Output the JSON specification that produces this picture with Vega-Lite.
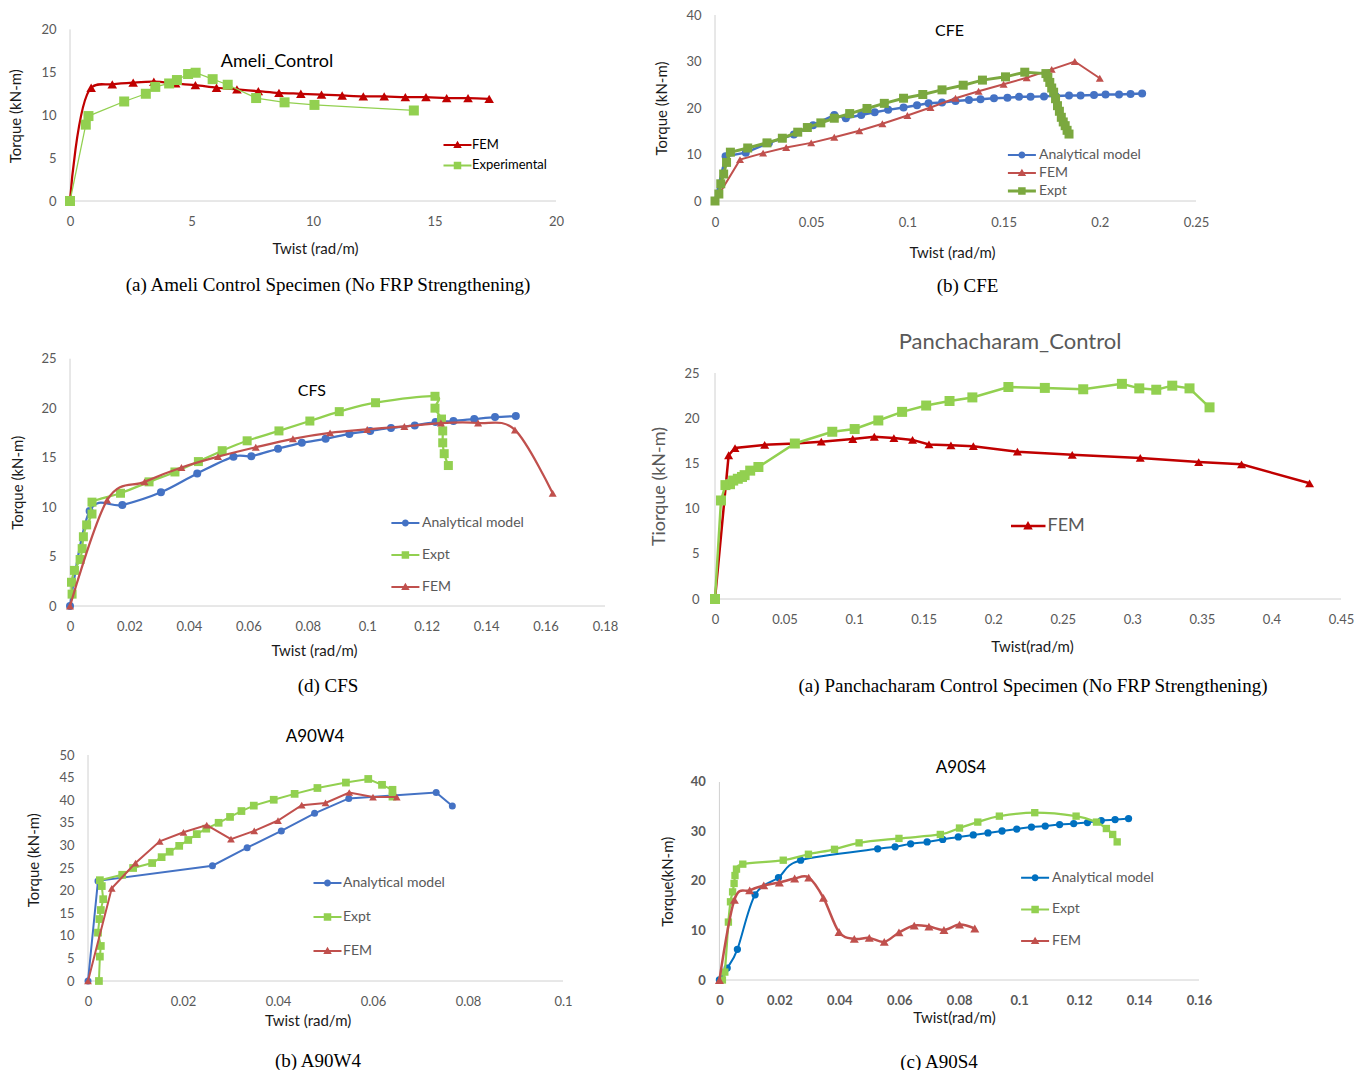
{
"$schema": "https://vega.github.io/schema/vega-lite/v6.json",
"background": "white",
"padding": {"left": 8, "top": 9, "right": 2, "bottom": 2},
"config": {
  "view": {"stroke": null},
  "font": "Lato",
  "axis": {"domain": false, "ticks": false, "grid": false, "labelColor": "#595959", "labelFontSize": 13, "labelFont": "Lato", "titleFont": "Lato", "titleFontSize": 15, "titleFontWeight": "normal", "titleColor": "#1a1a1a", "labelFlush": false, "labelOverlap": false},
  "axisX": {"labelPadding": 14},
  "axisY": {"labelPadding": 14},
  "legend": {"orient": "none", "padding": 0, "labelFont": "Lato", "labelFontSize": 14, "labelColor": "#595959", "symbolSize": 100, "symbolOpacity": 1, "symbolStrokeWidth": 0, "labelOffset": 3, "labelLimit": 400},
  "title": {"font": "Liberation Serif", "fontSize": 19, "fontWeight": "normal", "color": "#000000", "orient": "bottom", "anchor": "middle", "frame": "group"}
},
"datasets": {
  "p1": [
    {"s":"FEM","x":0,"y":0},{"s":"FEM","x":0.87,"y":13.2},{"s":"FEM","x":1.74,"y":13.6},{"s":"FEM","x":2.6,"y":13.8},{"s":"FEM","x":3.45,"y":13.9},{"s":"FEM","x":4.35,"y":13.7},{"s":"FEM","x":5.16,"y":13.5},{"s":"FEM","x":6.03,"y":13.2},{"s":"FEM","x":6.87,"y":13.0},{"s":"FEM","x":7.75,"y":12.8},{"s":"FEM","x":8.6,"y":12.6},{"s":"FEM","x":9.5,"y":12.5},{"s":"FEM","x":10.35,"y":12.4},{"s":"FEM","x":11.2,"y":12.3},{"s":"FEM","x":12.07,"y":12.2},{"s":"FEM","x":12.93,"y":12.2},{"s":"FEM","x":13.8,"y":12.1},{"s":"FEM","x":14.65,"y":12.1},{"s":"FEM","x":15.5,"y":12.0},{"s":"FEM","x":16.38,"y":12.0},{"s":"FEM","x":17.25,"y":11.9},
    {"s":"Experimental","x":0,"y":0},{"s":"Experimental","x":0.65,"y":8.9},{"s":"Experimental","x":0.76,"y":9.9},{"s":"Experimental","x":2.23,"y":11.6},{"s":"Experimental","x":3.12,"y":12.5},{"s":"Experimental","x":3.51,"y":13.3},{"s":"Experimental","x":4.08,"y":13.7},{"s":"Experimental","x":4.4,"y":14.1},{"s":"Experimental","x":4.86,"y":14.8},{"s":"Experimental","x":5.17,"y":14.95},{"s":"Experimental","x":5.87,"y":14.2},{"s":"Experimental","x":6.49,"y":13.55},{"s":"Experimental","x":7.66,"y":12.0},{"s":"Experimental","x":8.83,"y":11.5},{"s":"Experimental","x":10.06,"y":11.2},{"s":"Experimental","x":14.15,"y":10.55}
  ],
  "p2": [
    {"s":"Analytical model","x":0,"y":0},{"s":"Analytical model","x":0.0055,"y":9.6},{"s":"Analytical model","x":0.016,"y":10.4},{"s":"Analytical model","x":0.028,"y":12.5},{"s":"Analytical model","x":0.041,"y":14.3},{"s":"Analytical model","x":0.051,"y":16.3},{"s":"Analytical model","x":0.062,"y":18.5},{"s":"Analytical model","x":0.068,"y":17.8},{"s":"Analytical model","x":0.076,"y":18.5},{"s":"Analytical model","x":0.083,"y":19.1},{"s":"Analytical model","x":0.09,"y":19.6},{"s":"Analytical model","x":0.098,"y":20.1},{"s":"Analytical model","x":0.105,"y":20.6},{"s":"Analytical model","x":0.111,"y":21.0},{"s":"Analytical model","x":0.118,"y":21.2},{"s":"Analytical model","x":0.125,"y":21.5},{"s":"Analytical model","x":0.132,"y":21.7},{"s":"Analytical model","x":0.138,"y":21.9},{"s":"Analytical model","x":0.145,"y":22.1},{"s":"Analytical model","x":0.152,"y":22.2},{"s":"Analytical model","x":0.158,"y":22.4},{"s":"Analytical model","x":0.164,"y":22.4},{"s":"Analytical model","x":0.171,"y":22.5},{"s":"Analytical model","x":0.177,"y":22.6},{"s":"Analytical model","x":0.184,"y":22.7},{"s":"Analytical model","x":0.19,"y":22.7},{"s":"Analytical model","x":0.197,"y":22.8},{"s":"Analytical model","x":0.203,"y":22.9},{"s":"Analytical model","x":0.21,"y":22.9},{"s":"Analytical model","x":0.216,"y":23.0},{"s":"Analytical model","x":0.222,"y":23.1},
    {"s":"FEM","x":0,"y":0},{"s":"FEM","x":0.013,"y":8.9},{"s":"FEM","x":0.025,"y":10.3},{"s":"FEM","x":0.037,"y":11.5},{"s":"FEM","x":0.05,"y":12.5},{"s":"FEM","x":0.062,"y":13.7},{"s":"FEM","x":0.075,"y":15.1},{"s":"FEM","x":0.087,"y":16.6},{"s":"FEM","x":0.1,"y":18.4},{"s":"FEM","x":0.112,"y":20.1},{"s":"FEM","x":0.125,"y":22.1},{"s":"FEM","x":0.137,"y":23.6},{"s":"FEM","x":0.15,"y":25.1},{"s":"FEM","x":0.162,"y":26.5},{"s":"FEM","x":0.175,"y":28.3},{"s":"FEM","x":0.187,"y":30.0},{"s":"FEM","x":0.2,"y":26.4},
    {"s":"Expt","x":0,"y":0},{"s":"Expt","x":0.002,"y":1.5},{"s":"Expt","x":0.003,"y":3.7},{"s":"Expt","x":0.0045,"y":5.8},{"s":"Expt","x":0.006,"y":8.3},{"s":"Expt","x":0.008,"y":10.5},{"s":"Expt","x":0.017,"y":11.4},{"s":"Expt","x":0.027,"y":12.5},{"s":"Expt","x":0.035,"y":13.5},{"s":"Expt","x":0.043,"y":14.8},{"s":"Expt","x":0.048,"y":15.8},{"s":"Expt","x":0.055,"y":16.8},{"s":"Expt","x":0.062,"y":17.8},{"s":"Expt","x":0.07,"y":18.8},{"s":"Expt","x":0.079,"y":19.9},{"s":"Expt","x":0.088,"y":21.0},{"s":"Expt","x":0.098,"y":22.1},{"s":"Expt","x":0.108,"y":22.9},{"s":"Expt","x":0.118,"y":23.9},{"s":"Expt","x":0.129,"y":24.9},{"s":"Expt","x":0.139,"y":26.0},{"s":"Expt","x":0.151,"y":26.7},{"s":"Expt","x":0.161,"y":27.7},{"s":"Expt","x":0.172,"y":27.4},{"s":"Expt","x":0.173,"y":26.6},{"s":"Expt","x":0.174,"y":25.5},{"s":"Expt","x":0.175,"y":24.3},{"s":"Expt","x":0.176,"y":23.4},{"s":"Expt","x":0.177,"y":22.0},{"s":"Expt","x":0.178,"y":20.5},{"s":"Expt","x":0.179,"y":19.3},{"s":"Expt","x":0.18,"y":18.0},{"s":"Expt","x":0.181,"y":17.0},{"s":"Expt","x":0.182,"y":16.2},{"s":"Expt","x":0.183,"y":15.2},{"s":"Expt","x":0.184,"y":14.4}
  ],
  "p3": [
    {"s":"Analytical model","x":0,"y":0},{"s":"Analytical model","x":0.0066,"y":9.6},{"s":"Analytical model","x":0.0176,"y":10.2},{"s":"Analytical model","x":0.0306,"y":11.5},{"s":"Analytical model","x":0.0428,"y":13.4},{"s":"Analytical model","x":0.055,"y":15.1},{"s":"Analytical model","x":0.061,"y":15.15},{"s":"Analytical model","x":0.07,"y":15.9},{"s":"Analytical model","x":0.078,"y":16.5},{"s":"Analytical model","x":0.086,"y":16.9},{"s":"Analytical model","x":0.094,"y":17.4},{"s":"Analytical model","x":0.101,"y":17.7},{"s":"Analytical model","x":0.108,"y":18.0},{"s":"Analytical model","x":0.116,"y":18.25},{"s":"Analytical model","x":0.123,"y":18.6},{"s":"Analytical model","x":0.129,"y":18.7},{"s":"Analytical model","x":0.136,"y":18.9},{"s":"Analytical model","x":0.143,"y":19.1},{"s":"Analytical model","x":0.15,"y":19.2},
    {"s":"Expt","x":0.0007,"y":1.2},{"s":"Expt","x":0.0005,"y":2.4},{"s":"Expt","x":0.0015,"y":3.6},{"s":"Expt","x":0.0034,"y":4.7},{"s":"Expt","x":0.0041,"y":5.8},{"s":"Expt","x":0.0045,"y":7.0},{"s":"Expt","x":0.0056,"y":8.2},{"s":"Expt","x":0.0074,"y":9.3},{"s":"Expt","x":0.0074,"y":10.5},{"s":"Expt","x":0.017,"y":11.4},{"s":"Expt","x":0.0266,"y":12.55},{"s":"Expt","x":0.0353,"y":13.55},{"s":"Expt","x":0.0432,"y":14.6},{"s":"Expt","x":0.0512,"y":15.7},{"s":"Expt","x":0.0596,"y":16.7},{"s":"Expt","x":0.0703,"y":17.7},{"s":"Expt","x":0.0807,"y":18.7},{"s":"Expt","x":0.0906,"y":19.65},{"s":"Expt","x":0.1028,"y":20.55},{"s":"Expt","x":0.1228,"y":21.2},{"s":"Expt","x":0.1228,"y":20.0},{"s":"Expt","x":0.125,"y":18.9},{"s":"Expt","x":0.1254,"y":17.7},{"s":"Expt","x":0.1254,"y":16.5},{"s":"Expt","x":0.1259,"y":15.4},{"s":"Expt","x":0.1273,"y":14.2},
    {"s":"FEM","x":0,"y":0},{"s":"FEM","x":0.0125,"y":10.7},{"s":"FEM","x":0.0251,"y":12.55},{"s":"FEM","x":0.0375,"y":14.0},{"s":"FEM","x":0.0498,"y":15.1},{"s":"FEM","x":0.0625,"y":16.05},{"s":"FEM","x":0.075,"y":16.9},{"s":"FEM","x":0.0875,"y":17.5},{"s":"FEM","x":0.1,"y":17.85},{"s":"FEM","x":0.1125,"y":18.15},{"s":"FEM","x":0.1248,"y":18.5},{"s":"FEM","x":0.1373,"y":18.5},{"s":"FEM","x":0.1497,"y":17.8},{"s":"FEM","x":0.1624,"y":11.4}
  ],
  "p4": [
    {"s":"FEM","x":0,"y":0},{"s":"FEM","x":0.0098,"y":15.9},{"s":"FEM","x":0.0144,"y":16.7},{"s":"FEM","x":0.0357,"y":17.05},{"s":"FEM","x":0.0574,"y":17.2},{"s":"FEM","x":0.0764,"y":17.4},{"s":"FEM","x":0.099,"y":17.7},{"s":"FEM","x":0.1145,"y":17.95},{"s":"FEM","x":0.1286,"y":17.8},{"s":"FEM","x":0.142,"y":17.6},{"s":"FEM","x":0.1538,"y":17.1},{"s":"FEM","x":0.1696,"y":17.0},{"s":"FEM","x":0.1857,"y":16.9},{"s":"FEM","x":0.2174,"y":16.3},{"s":"FEM","x":0.2568,"y":15.95},{"s":"FEM","x":0.3057,"y":15.6},{"s":"FEM","x":0.3477,"y":15.15},{"s":"FEM","x":0.3785,"y":14.9},{"s":"FEM","x":0.4274,"y":12.8},
    {"s":"Experimental","x":0,"y":0},{"s":"Experimental","x":0.0043,"y":10.9},{"s":"Experimental","x":0.0075,"y":12.6},{"s":"Experimental","x":0.0108,"y":12.7},{"s":"Experimental","x":0.0131,"y":13.1},{"s":"Experimental","x":0.0164,"y":13.3},{"s":"Experimental","x":0.0194,"y":13.5},{"s":"Experimental","x":0.0213,"y":13.7},{"s":"Experimental","x":0.0253,"y":14.2},{"s":"Experimental","x":0.0312,"y":14.6},{"s":"Experimental","x":0.0574,"y":17.2},{"s":"Experimental","x":0.0843,"y":18.5},{"s":"Experimental","x":0.1004,"y":18.8},{"s":"Experimental","x":0.1174,"y":19.75},{"s":"Experimental","x":0.1345,"y":20.7},{"s":"Experimental","x":0.1518,"y":21.4},{"s":"Experimental","x":0.1686,"y":21.9},{"s":"Experimental","x":0.185,"y":22.3},{"s":"Experimental","x":0.2109,"y":23.45},{"s":"Experimental","x":0.2371,"y":23.35},{"s":"Experimental","x":0.2647,"y":23.2},{"s":"Experimental","x":0.2925,"y":23.8},{"s":"Experimental","x":0.305,"y":23.3},{"s":"Experimental","x":0.3172,"y":23.15},{"s":"Experimental","x":0.3287,"y":23.6},{"s":"Experimental","x":0.3411,"y":23.3},{"s":"Experimental","x":0.3555,"y":21.2}
  ],
  "p5": [
    {"s":"Analytical model","x":0,"y":0},{"s":"Analytical model","x":0.0021,"y":22.15},{"s":"Analytical model","x":0.0262,"y":25.5},{"s":"Analytical model","x":0.0335,"y":29.5},{"s":"Analytical model","x":0.0407,"y":33.2},{"s":"Analytical model","x":0.0477,"y":37.1},{"s":"Analytical model","x":0.0549,"y":40.4},{"s":"Analytical model","x":0.0733,"y":41.7},{"s":"Analytical model","x":0.0767,"y":38.7},
    {"s":"Expt","x":0.0023,"y":0},{"s":"Expt","x":0.0025,"y":5.4},{"s":"Expt","x":0.0027,"y":7.75},{"s":"Expt","x":0.0021,"y":10.7},{"s":"Expt","x":0.0024,"y":13.7},{"s":"Expt","x":0.0027,"y":15.7},{"s":"Expt","x":0.0032,"y":18.1},{"s":"Expt","x":0.0029,"y":21.0},{"s":"Expt","x":0.0025,"y":22.3},{"s":"Expt","x":0.0072,"y":23.5},{"s":"Expt","x":0.0095,"y":25.0},{"s":"Expt","x":0.0135,"y":26.1},{"s":"Expt","x":0.0155,"y":27.4},{"s":"Expt","x":0.0172,"y":28.6},{"s":"Expt","x":0.0192,"y":29.9},{"s":"Expt","x":0.0211,"y":31.2},{"s":"Expt","x":0.0229,"y":32.5},{"s":"Expt","x":0.0249,"y":33.7},{"s":"Expt","x":0.0275,"y":35.0},{"s":"Expt","x":0.0299,"y":36.3},{"s":"Expt","x":0.0323,"y":37.6},{"s":"Expt","x":0.0349,"y":38.8},{"s":"Expt","x":0.0391,"y":40.1},{"s":"Expt","x":0.0435,"y":41.4},{"s":"Expt","x":0.0483,"y":42.7},{"s":"Expt","x":0.0543,"y":43.9},{"s":"Expt","x":0.059,"y":44.7},{"s":"Expt","x":0.0619,"y":43.4},{"s":"Expt","x":0.0641,"y":42.3},{"s":"Expt","x":0.0641,"y":40.8},
    {"s":"FEM","x":0,"y":0},{"s":"FEM","x":0.005,"y":20.5},{"s":"FEM","x":0.01,"y":26.1},{"s":"FEM","x":0.0151,"y":30.9},{"s":"FEM","x":0.0201,"y":32.9},{"s":"FEM","x":0.025,"y":34.5},{"s":"FEM","x":0.0301,"y":31.4},{"s":"FEM","x":0.035,"y":33.2},{"s":"FEM","x":0.04,"y":35.5},{"s":"FEM","x":0.045,"y":38.9},{"s":"FEM","x":0.05,"y":39.4},{"s":"FEM","x":0.055,"y":41.7},{"s":"FEM","x":0.06,"y":40.7},{"s":"FEM","x":0.065,"y":40.7}
  ],
  "p6": [
    {"s":"Analytical model","x":0,"y":0},{"s":"Analytical model","x":0.0026,"y":2.4},{"s":"Analytical model","x":0.006,"y":6.2},{"s":"Analytical model","x":0.0119,"y":17.2},{"s":"Analytical model","x":0.0197,"y":20.7},{"s":"Analytical model","x":0.0271,"y":24.2},{"s":"Analytical model","x":0.0528,"y":26.5},{"s":"Analytical model","x":0.0586,"y":26.9},{"s":"Analytical model","x":0.0638,"y":27.5},{"s":"Analytical model","x":0.0693,"y":27.9},{"s":"Analytical model","x":0.0745,"y":28.4},{"s":"Analytical model","x":0.0797,"y":28.9},{"s":"Analytical model","x":0.0847,"y":29.3},{"s":"Analytical model","x":0.0896,"y":29.7},{"s":"Analytical model","x":0.0943,"y":30.1},{"s":"Analytical model","x":0.0992,"y":30.5},{"s":"Analytical model","x":0.1041,"y":30.9},{"s":"Analytical model","x":0.1087,"y":31.1},{"s":"Analytical model","x":0.1135,"y":31.4},{"s":"Analytical model","x":0.1182,"y":31.6},{"s":"Analytical model","x":0.1228,"y":31.8},{"s":"Analytical model","x":0.1274,"y":32.2},{"s":"Analytical model","x":0.132,"y":32.4},{"s":"Analytical model","x":0.1365,"y":32.6},
    {"s":"Expt","x":0.001,"y":0},{"s":"Expt","x":0.0018,"y":1.6},{"s":"Expt","x":0.003,"y":11.7},{"s":"Expt","x":0.0037,"y":15.8},{"s":"Expt","x":0.0044,"y":17.8},{"s":"Expt","x":0.0049,"y":19.5},{"s":"Expt","x":0.0052,"y":21.1},{"s":"Expt","x":0.0057,"y":22.4},{"s":"Expt","x":0.0078,"y":23.4},{"s":"Expt","x":0.0213,"y":24.2},{"s":"Expt","x":0.0297,"y":25.4},{"s":"Expt","x":0.0384,"y":26.4},{"s":"Expt","x":0.0466,"y":27.7},{"s":"Expt","x":0.0599,"y":28.6},{"s":"Expt","x":0.0737,"y":29.4},{"s":"Expt","x":0.0801,"y":30.7},{"s":"Expt","x":0.0862,"y":31.9},{"s":"Expt","x":0.0934,"y":33.1},{"s":"Expt","x":0.1052,"y":33.8},{"s":"Expt","x":0.119,"y":33.1},{"s":"Expt","x":0.1258,"y":31.9},{"s":"Expt","x":0.1291,"y":30.6},{"s":"Expt","x":0.1312,"y":29.4},{"s":"Expt","x":0.1327,"y":27.9},
    {"s":"FEM","x":0,"y":0},{"s":"FEM","x":0.005,"y":16.2},{"s":"FEM","x":0.0101,"y":18.1},{"s":"FEM","x":0.0148,"y":19.1},{"s":"FEM","x":0.02,"y":19.7},{"s":"FEM","x":0.0251,"y":20.5},{"s":"FEM","x":0.0298,"y":20.7},{"s":"FEM","x":0.0347,"y":16.6},{"s":"FEM","x":0.0399,"y":9.7},{"s":"FEM","x":0.045,"y":8.3},{"s":"FEM","x":0.05,"y":8.5},{"s":"FEM","x":0.055,"y":7.7},{"s":"FEM","x":0.0599,"y":9.6},{"s":"FEM","x":0.065,"y":11.0},{"s":"FEM","x":0.0699,"y":10.8},{"s":"FEM","x":0.0749,"y":10.1},{"s":"FEM","x":0.0801,"y":11.2},{"s":"FEM","x":0.0852,"y":10.4}
  ]
},
"spacing": 32,
"resolve": {"scale": {"color": "independent", "shape": "independent"}, "legend": {"color": "independent", "shape": "independent"}},
"hconcat": [
 {
  "vconcat": [
   {
    "width": 486, "height": 186,
    "data": {"name": "p1"},
    "title": {"text": "(a) Ameli Control Specimen (No FRP Strengthening)", "offset": 19, "dx": 15},
    "layer": [
     {"transform": [{"aggregate": [{"op": "count", "as": "n"}]}], "mark": {"type": "rule", "color": "#d0d0d0"}, "encoding": {"x": {"datum": 0}, "x2": {"datum": 20}, "y": {"datum": 0}}},
     {"transform": [{"aggregate": [{"op": "count", "as": "n"}]}], "mark": {"type": "rule", "color": "#d0d0d0"}, "encoding": {"x": {"datum": 0}, "y": {"datum": 0}, "y2": {"datum": 20}}},
     {
      "encoding": {
       "x": {"field": "x", "type": "quantitative", "scale": {"domain": [0, 20], "nice": false, "zero": false}, "axis": {"values": [0, 5, 10, 15, 20], "labelOverlap": false, "title": "Twist (rad/m)", "titlePadding": 13.7, "titleX": 245}},
       "y": {"field": "y", "type": "quantitative", "scale": {"domain": [0, 21.68], "nice": false, "zero": false}, "axis": {"values": [0, 5, 10, 15, 20], "labelOverlap": false, "title": "Torque (kN-m)", "titlePadding": 17.5, "titleY": 100.7}}
      },
      "layer": [
       {"transform": [{"filter": "datum.s === 'FEM'"}, {"window": [{"op": "row_number", "as": "i"}]}], "mark": {"type": "line", "color": "#c00000", "strokeWidth": 2.25, "interpolate": "catmull-rom"}, "encoding": {"order": {"field": "i", "type": "quantitative"}}},
       {"transform": [{"filter": "datum.s === 'FEM'"}], "mark": {"type": "point", "shape": "triangle-up", "filled": true, "opacity": 1, "color": "#c00000", "size": 92}},
       {"transform": [{"filter": "datum.s === 'Experimental'"}, {"window": [{"op": "row_number", "as": "i"}]}], "mark": {"type": "line", "color": "#92d050", "strokeWidth": 1.25}, "encoding": {"order": {"field": "i", "type": "quantitative"}}},
       {"transform": [{"filter": "datum.s === 'Experimental'"}], "mark": {"type": "point", "shape": "square", "filled": true, "opacity": 1, "color": "#92d050", "size": 100}}
      ]
     },
     {"transform": [{"aggregate": [{"op": "count", "as": "n"}]}], "mark": {"type": "text", "text": "Ameli_Control", "fontSize": 18, "color": "#000000", "font": "Lato"}, "encoding": {"x": {"datum": 8.52}, "y": {"datum": 16.2}}},
     {"transform": [{"filter": "false"}], "mark": {"type": "point", "filled": true, "opacity": 1},
      "encoding": {
       "color": {"field": "s", "type": "nominal", "scale": {"domain": ["FEM", "Experimental"], "range": ["#c00000", "#92d050"]}, "legend": {"title": null, "orient": "none", "legendX": 390, "legendY": 123.5, "rowPadding": 6.4, "labelFontSize": 13, "labelColor": "#000000", "labelOffset": -1}},
       "shape": {"field": "s", "type": "nominal", "scale": {"domain": ["FEM", "Experimental"], "range": ["M-4.6,-0.2H1V0.2H-4.6Z M-1.8,-0.85L-0.95,0.6H-2.65Z", "M-4.6,-0.2H1V0.2H-4.6Z M-2.55,-0.75H-1.05V0.75H-2.55Z"]}, "legend": {"title": null, "orient": "none", "legendX": 390, "legendY": 123.5, "rowPadding": 6.4, "labelFontSize": 13, "labelColor": "#000000", "labelOffset": -1}}}}
    ]
   },
   {
    "width": 535, "height": 256,
    "data": {"name": "p3"},
    "title": {"text": "(d) CFS", "offset": 19, "dx": -9.5},
    "layer": [
     {"transform": [{"aggregate": [{"op": "count", "as": "n"}]}], "mark": {"type": "rule", "color": "#d0d0d0"}, "encoding": {"x": {"datum": 0}, "x2": {"datum": 0.18}, "y": {"datum": 0}}},
     {"transform": [{"aggregate": [{"op": "count", "as": "n"}]}], "mark": {"type": "rule", "color": "#d0d0d0"}, "encoding": {"x": {"datum": 0}, "y": {"datum": 0}, "y2": {"datum": 25}}},
     {
      "encoding": {
       "x": {"field": "x", "type": "quantitative", "scale": {"domain": [0, 0.18], "nice": false, "zero": false}, "axis": {"values": [0, 0.02, 0.04, 0.06, 0.08, 0.1, 0.12, 0.14, 0.16, 0.18], "labelOverlap": false, "labelExpr": "'' + datum.value", "title": "Twist (rad/m)", "titlePadding": 10, "titleX": 244}},
       "y": {"field": "y", "type": "quantitative", "scale": {"domain": [0, 25.88], "nice": false, "zero": false}, "axis": {"values": [0, 5, 10, 15, 20, 25], "labelOverlap": false, "title": "Torque (kN-m)", "titlePadding": 15.5, "titleY": 132.3}}
      },
      "layer": [
       {"transform": [{"filter": "datum.s === 'Analytical model'"}, {"window": [{"op": "row_number", "as": "i"}]}], "mark": {"type": "line", "color": "#4472c4", "strokeWidth": 2.25, "interpolate": "cardinal"}, "encoding": {"order": {"field": "i", "type": "quantitative"}}},
       {"transform": [{"filter": "datum.s === 'Analytical model'"}], "mark": {"type": "point", "shape": "circle", "filled": true, "opacity": 1, "color": "#4472c4", "size": 64}},
       {"transform": [{"filter": "datum.s === 'Expt'"}, {"window": [{"op": "row_number", "as": "i"}]}], "mark": {"type": "line", "color": "#92d050", "strokeWidth": 2.25, "interpolate": "cardinal"}, "encoding": {"order": {"field": "i", "type": "quantitative"}}},
       {"transform": [{"filter": "datum.s === 'Expt'"}], "mark": {"type": "point", "shape": "square", "filled": true, "opacity": 1, "color": "#92d050", "size": 81}},
       {"transform": [{"filter": "datum.s === 'FEM'"}, {"window": [{"op": "row_number", "as": "i"}]}], "mark": {"type": "line", "color": "#c0504d", "strokeWidth": 2.25, "interpolate": "cardinal"}, "encoding": {"order": {"field": "i", "type": "quantitative"}}},
       {"transform": [{"filter": "datum.s === 'FEM'"}], "mark": {"type": "point", "shape": "triangle-up", "filled": true, "opacity": 1, "color": "#c0504d", "size": 64}}
      ]
     },
     {"transform": [{"aggregate": [{"op": "count", "as": "n"}]}], "mark": {"type": "text", "text": "CFS", "fontSize": 16, "color": "#000000", "font": "Lato"}, "encoding": {"x": {"datum": 0.0814}, "y": {"datum": 21.74}}},
     {"transform": [{"filter": "false"}], "mark": {"type": "point", "filled": true, "opacity": 1},
      "encoding": {
       "color": {"field": "s", "type": "nominal", "scale": {"domain": ["Analytical model", "Expt", "FEM"], "range": ["#4472c4", "#92d050", "#c0504d"]}, "legend": {"title": null, "orient": "none", "legendX": 337.4, "legendY": 166, "rowPadding": 18, "labelOffset": 0.6}},
       "shape": {"field": "s", "type": "nominal", "scale": {"domain": ["Analytical model", "Expt", "FEM"], "range": ["M-4.6,-0.2H1V0.2H-4.6Z M-2.5,0A0.7,0.7,0,1,1,-1.1,0A0.7,0.7,0,1,1,-2.5,0Z", "M-4.6,-0.2H1V0.2H-4.6Z M-2.55,-0.75H-1.05V0.75H-2.55Z", "M-4.6,-0.2H1V0.2H-4.6Z M-1.8,-0.85L-0.95,0.6H-2.65Z"]}, "legend": {"title": null, "orient": "none", "legendX": 337.4, "legendY": 166, "rowPadding": 18, "labelOffset": 0.6}}}}
    ]
   },
   {
    "width": 493, "height": 226,
    "data": {"name": "p5"},
    "title": {"text": "(b) A90W4", "offset": 24, "dx": 1.5},
    "layer": [
     {"transform": [{"aggregate": [{"op": "count", "as": "n"}]}], "mark": {"type": "rule", "color": "#d0d0d0"}, "encoding": {"x": {"datum": 0}, "x2": {"datum": 0.1}, "y": {"datum": 0, "axis": {"values": [0, 5, 10, 15, 20, 25, 30, 35, 40, 45, 50], "labelOverlap": false, "title": "Torque (kN-m)", "titlePadding": 17.5, "titleY": 104.7, "offset": -18}}}},
     {"transform": [{"aggregate": [{"op": "count", "as": "n"}]}], "mark": {"type": "rule", "color": "#d0d0d0"}, "encoding": {"x": {"datum": 0}, "y": {"datum": 0, "axis": {"values": [0, 5, 10, 15, 20, 25, 30, 35, 40, 45, 50], "labelOverlap": false, "title": "Torque (kN-m)", "titlePadding": 17.5, "titleY": 104.7, "offset": -18}}, "y2": {"datum": 50}}},
     {
      "encoding": {
       "x": {"field": "x", "type": "quantitative", "scale": {"domain": [-0.00379, 0.1], "nice": false, "zero": false}, "axis": {"values": [0, 0.02, 0.04, 0.06, 0.08, 0.1], "labelOverlap": false, "labelExpr": "'' + datum.value", "title": "Twist (rad/m)", "titlePadding": 5, "titleX": 237.7}},
       "y": {"field": "y", "type": "quantitative", "scale": {"domain": [0, 50], "nice": false, "zero": false}, "axis": {"values": [0, 5, 10, 15, 20, 25, 30, 35, 40, 45, 50], "labelOverlap": false, "title": "Torque (kN-m)", "titlePadding": 17.5, "titleY": 104.7, "offset": -18}}
      },
      "layer": [
       {"transform": [{"filter": "datum.s === 'Analytical model'"}, {"window": [{"op": "row_number", "as": "i"}]}], "mark": {"type": "line", "color": "#4472c4", "strokeWidth": 2}, "encoding": {"order": {"field": "i", "type": "quantitative"}}},
       {"transform": [{"filter": "datum.s === 'Analytical model'"}], "mark": {"type": "point", "shape": "circle", "filled": true, "opacity": 1, "color": "#4472c4", "size": 49}},
       {"transform": [{"filter": "datum.s === 'Expt'"}, {"window": [{"op": "row_number", "as": "i"}]}], "mark": {"type": "line", "color": "#92d050", "strokeWidth": 2}, "encoding": {"order": {"field": "i", "type": "quantitative"}}},
       {"transform": [{"filter": "datum.s === 'Expt'"}], "mark": {"type": "point", "shape": "square", "filled": true, "opacity": 1, "color": "#92d050", "size": 60}},
       {"transform": [{"filter": "datum.s === 'FEM'"}, {"window": [{"op": "row_number", "as": "i"}]}], "mark": {"type": "line", "color": "#c0504d", "strokeWidth": 2}, "encoding": {"order": {"field": "i", "type": "quantitative"}}},
       {"transform": [{"filter": "datum.s === 'FEM'"}], "mark": {"type": "point", "shape": "triangle-up", "filled": true, "opacity": 1, "color": "#c0504d", "size": 60}}
      ]
     },
     {"transform": [{"aggregate": [{"op": "count", "as": "n"}]}], "mark": {"type": "text", "text": "A90W4", "fontSize": 17, "color": "#000000", "font": "Lato"}, "encoding": {"x": {"datum": 0.0478}, "y": {"datum": 54.0, "axis": {"values": [0, 5, 10, 15, 20, 25, 30, 35, 40, 45, 50], "labelOverlap": false, "title": "Torque (kN-m)", "titlePadding": 17.5, "titleY": 104.7, "offset": -18}}}},
     {"transform": [{"filter": "false"}], "mark": {"type": "point", "filled": true, "opacity": 1},
      "encoding": {
       "color": {"field": "s", "type": "nominal", "scale": {"domain": ["Analytical model", "Expt", "FEM"], "range": ["#4472c4", "#92d050", "#c0504d"]}, "legend": {"title": null, "orient": "none", "legendX": 259.5, "legendY": 121, "rowPadding": 20, "labelOffset": -0.5}},
       "shape": {"field": "s", "type": "nominal", "scale": {"domain": ["Analytical model", "Expt", "FEM"], "range": ["M-4.6,-0.2H1V0.2H-4.6Z M-2.5,0A0.7,0.7,0,1,1,-1.1,0A0.7,0.7,0,1,1,-2.5,0Z", "M-4.6,-0.2H1V0.2H-4.6Z M-2.55,-0.75H-1.05V0.75H-2.55Z", "M-4.6,-0.2H1V0.2H-4.6Z M-1.8,-0.85L-0.95,0.6H-2.65Z"]}, "legend": {"title": null, "orient": "none", "legendX": 259.5, "legendY": 121, "rowPadding": 20, "labelOffset": -0.5}}}}
    ]
   }
  ],
  "spacing": 149,
  "bounds": "flush",
  "resolve": {"scale": {"color": "independent", "shape": "independent"}, "legend": {"color": "independent", "shape": "independent"}}
 },
 {
  "vconcat": [
   {
    "width": 481, "height": 186,
    "data": {"name": "p2"},
    "title": {"text": "(b) CFE", "offset": 17, "dx": 12},
    "layer": [
     {"transform": [{"aggregate": [{"op": "count", "as": "n"}]}], "mark": {"type": "rule", "color": "#d0d0d0"}, "encoding": {"x": {"datum": 0}, "x2": {"datum": 0.25}, "y": {"datum": 0}}},
     {"transform": [{"aggregate": [{"op": "count", "as": "n"}]}], "mark": {"type": "rule", "color": "#d0d0d0"}, "encoding": {"x": {"datum": 0}, "y": {"datum": 0}, "y2": {"datum": 40}}},
     {
      "encoding": {
       "x": {"field": "x", "type": "quantitative", "scale": {"domain": [0, 0.25], "nice": false, "zero": false}, "axis": {"values": [0, 0.05, 0.1, 0.15, 0.2, 0.25], "labelOverlap": false, "labelExpr": "'' + datum.value", "labelPadding": 15, "title": "Twist (rad/m)", "titlePadding": 16.2, "titleX": 237}},
       "y": {"field": "y", "type": "quantitative", "scale": {"domain": [0, 40], "nice": false, "zero": false}, "axis": {"values": [0, 10, 20, 30, 40], "labelOverlap": false, "title": "Torque (kN-m)", "titlePadding": 16.5}}
      },
      "layer": [
       {"transform": [{"filter": "datum.s === 'Analytical model'"}, {"window": [{"op": "row_number", "as": "i"}]}], "mark": {"type": "line", "color": "#4472c4", "strokeWidth": 2.5}, "encoding": {"order": {"field": "i", "type": "quantitative"}}},
       {"transform": [{"filter": "datum.s === 'Analytical model'"}], "mark": {"type": "point", "shape": "circle", "filled": true, "opacity": 1, "color": "#4472c4", "size": 64}},
       {"transform": [{"filter": "datum.s === 'FEM'"}, {"window": [{"op": "row_number", "as": "i"}]}], "mark": {"type": "line", "color": "#c0504d", "strokeWidth": 2}, "encoding": {"order": {"field": "i", "type": "quantitative"}}},
       {"transform": [{"filter": "datum.s === 'FEM'"}], "mark": {"type": "point", "shape": "triangle-up", "filled": true, "opacity": 1, "color": "#c0504d", "size": 64}},
       {"transform": [{"filter": "datum.s === 'Expt'"}, {"window": [{"op": "row_number", "as": "i"}]}], "mark": {"type": "line", "color": "#7ba83f", "strokeWidth": 3}, "encoding": {"order": {"field": "i", "type": "quantitative"}}},
       {"transform": [{"filter": "datum.s === 'Expt'"}], "mark": {"type": "point", "shape": "square", "filled": true, "opacity": 1, "color": "#7ba83f", "size": 81}}
      ]
     },
     {"transform": [{"aggregate": [{"op": "count", "as": "n"}]}], "mark": {"type": "text", "text": "CFE", "fontSize": 16, "color": "#000000", "font": "Lato"}, "encoding": {"x": {"datum": 0.1219}, "y": {"datum": 36.56}}},
     {"transform": [{"filter": "false"}], "mark": {"type": "point", "filled": true, "opacity": 1},
      "encoding": {
       "color": {"field": "s", "type": "nominal", "scale": {"domain": ["Analytical model", "FEM", "Expt"], "range": ["#4472c4", "#c0504d", "#7ba83f"]}, "legend": {"title": null, "orient": "none", "legendX": 308.9, "legendY": 133, "rowPadding": 4, "labelOffset": 1.1}},
       "shape": {"field": "s", "type": "nominal", "scale": {"domain": ["Analytical model", "FEM", "Expt"], "range": ["M-4.6,-0.2H1V0.2H-4.6Z M-2.5,0A0.7,0.7,0,1,1,-1.1,0A0.7,0.7,0,1,1,-2.5,0Z", "M-4.6,-0.2H1V0.2H-4.6Z M-1.8,-0.85L-0.95,0.6H-2.65Z", "M-4.6,-0.3H1V0.3H-4.6Z M-2.55,-0.75H-1.05V0.75H-2.55Z"]}, "legend": {"title": null, "orient": "none", "legendX": 308.9, "legendY": 133, "rowPadding": 4, "labelOffset": 1.1}}}}
    ]
   },
   {
    "width": 626, "height": 226,
    "data": {"name": "p4"},
    "title": {"text": "(a) Panchacharam Control Specimen (No FRP Strengthening)", "offset": 23, "dx": 5},
    "layer": [
     {"transform": [{"aggregate": [{"op": "count", "as": "n"}]}], "mark": {"type": "rule", "color": "#d0d0d0"}, "encoding": {"x": {"datum": 0}, "x2": {"datum": 0.45}, "y": {"datum": 0}}},
     {"transform": [{"aggregate": [{"op": "count", "as": "n"}]}], "mark": {"type": "rule", "color": "#d0d0d0"}, "encoding": {"x": {"datum": 0}, "y": {"datum": 0}, "y2": {"datum": 25}}},
     {
      "encoding": {
       "x": {"field": "x", "type": "quantitative", "scale": {"domain": [0, 0.45], "nice": false, "zero": false}, "axis": {"values": [0, 0.05, 0.1, 0.15, 0.2, 0.25, 0.3, 0.35, 0.4, 0.45], "labelOverlap": false, "labelExpr": "'' + datum.value", "title": "Twist(rad/m)", "titlePadding": 13, "titleX": 317}},
       "y": {"field": "y", "type": "quantitative", "scale": {"domain": [0, 25], "nice": false, "zero": false}, "axis": {"values": [0, 5, 10, 15, 20, 25], "labelOverlap": false, "title": "Tiorque (kN-m)", "titleFontSize": 18, "titleColor": "#595959", "titlePadding": 15, "labelPadding": 16}}
      },
      "layer": [
       {"transform": [{"filter": "datum.s === 'FEM'"}, {"window": [{"op": "row_number", "as": "i"}]}], "mark": {"type": "line", "color": "#c00000", "strokeWidth": 2.5}, "encoding": {"order": {"field": "i", "type": "quantitative"}}},
       {"transform": [{"filter": "datum.s === 'FEM'"}], "mark": {"type": "point", "shape": "triangle-up", "filled": true, "opacity": 1, "color": "#c00000", "size": 81}},
       {"transform": [{"filter": "datum.s === 'Experimental'"}, {"window": [{"op": "row_number", "as": "i"}]}], "mark": {"type": "line", "color": "#92d050", "strokeWidth": 2.5}, "encoding": {"order": {"field": "i", "type": "quantitative"}}},
       {"transform": [{"filter": "datum.s === 'Experimental'"}], "mark": {"type": "point", "shape": "square", "filled": true, "opacity": 1, "color": "#92d050", "size": 100}}
      ]
     },
     {"transform": [{"aggregate": [{"op": "count", "as": "n"}]}], "mark": {"type": "text", "text": "Panchacharam_Control", "fontSize": 22, "color": "#595959", "font": "Lato"}, "encoding": {"x": {"datum": 0.2121}, "y": {"datum": 28.43}}},
     {"transform": [{"filter": "false"}], "mark": {"type": "point", "filled": true, "opacity": 1, "color": "#c00000"},
      "encoding": {
       "shape": {"field": "s", "type": "nominal", "scale": {"domain": ["FEM"], "range": ["M-5.9,-0.25H1V0.25H-5.9Z M-2.5,-1L-1.55,0.7H-3.45Z"]}, "legend": {"title": null, "orient": "none", "legendX": 316.5, "legendY": 144, "labelFontSize": 18, "labelOffset": -2, "symbolFillColor": "#c00000"}}}}
    ]
   },
   {
    "width": 484, "height": 209,
    "data": {"name": "p6"},
    "title": {"text": "(c) A90S4", "offset": 28, "dx": -18},
    "layer": [
     {"transform": [{"aggregate": [{"op": "count", "as": "n"}]}], "mark": {"type": "rule", "color": "#d0d0d0"}, "encoding": {"x": {"datum": 0}, "x2": {"datum": 0.16}, "y": {"datum": 0}}},
     {"transform": [{"aggregate": [{"op": "count", "as": "n"}]}], "mark": {"type": "rule", "color": "#d0d0d0"}, "encoding": {"x": {"datum": 0}, "y": {"datum": 0}, "y2": {"datum": 40}}},
     {
      "encoding": {
       "x": {"field": "x", "type": "quantitative", "scale": {"domain": [-0.00147, 0.16], "nice": false, "zero": false}, "axis": {"values": [0, 0.02, 0.04, 0.06, 0.08, 0.1, 0.12, 0.14, 0.16], "labelOverlap": false, "labelExpr": "'' + datum.value", "labelFontWeight": "bold", "title": "Twist(rad/m)", "titlePadding": 3, "titleX": 239}},
       "y": {"field": "y", "type": "quantitative", "scale": {"domain": [0, 42.22], "nice": false, "zero": false}, "axis": {"values": [0, 10, 20, 30, 40], "labelOverlap": false, "labelFontWeight": "bold", "title": "Torque(kN-m)", "titlePadding": 14.5, "titleY": 110.3, "offset": -4.4}}
      },
      "layer": [
       {"transform": [{"filter": "datum.s === 'Analytical model'"}, {"window": [{"op": "row_number", "as": "i"}]}], "mark": {"type": "line", "color": "#0070c0", "strokeWidth": 2, "interpolate": "cardinal"}, "encoding": {"order": {"field": "i", "type": "quantitative"}}},
       {"transform": [{"filter": "datum.s === 'Analytical model'"}], "mark": {"type": "point", "shape": "circle", "filled": true, "opacity": 1, "color": "#0070c0", "size": 53}},
       {"transform": [{"filter": "datum.s === 'Expt'"}, {"window": [{"op": "row_number", "as": "i"}]}], "mark": {"type": "line", "color": "#92d050", "strokeWidth": 2.25, "interpolate": "cardinal"}, "encoding": {"order": {"field": "i", "type": "quantitative"}}},
       {"transform": [{"filter": "datum.s === 'Expt'"}], "mark": {"type": "point", "shape": "square", "filled": true, "opacity": 1, "color": "#92d050", "size": 54}},
       {"transform": [{"filter": "datum.s === 'FEM'"}, {"window": [{"op": "row_number", "as": "i"}]}], "mark": {"type": "line", "color": "#c0504d", "strokeWidth": 2.5, "interpolate": "cardinal"}, "encoding": {"order": {"field": "i", "type": "quantitative"}}},
       {"transform": [{"filter": "datum.s === 'FEM'"}], "mark": {"type": "point", "shape": "triangle-up", "filled": true, "opacity": 1, "color": "#c0504d", "size": 81}}
      ]
     },
     {"transform": [{"aggregate": [{"op": "count", "as": "n"}]}], "mark": {"type": "text", "text": "A90S4", "fontSize": 17, "color": "#000000", "font": "Lato"}, "encoding": {"x": {"datum": 0.0806}, "y": {"datum": 42.8}}},
     {"transform": [{"filter": "false"}], "mark": {"type": "point", "filled": true, "opacity": 1},
      "encoding": {
       "color": {"field": "s", "type": "nominal", "scale": {"domain": ["Analytical model", "Expt", "FEM"], "range": ["#0070c0", "#92d050", "#c0504d"]}, "legend": {"title": null, "orient": "none", "legendX": 322.1, "legendY": 99.7, "rowPadding": 17.7, "labelOffset": 0.9}},
       "shape": {"field": "s", "type": "nominal", "scale": {"domain": ["Analytical model", "Expt", "FEM"], "range": ["M-4.6,-0.2H1V0.2H-4.6Z M-2.5,0A0.7,0.7,0,1,1,-1.1,0A0.7,0.7,0,1,1,-2.5,0Z", "M-4.6,-0.2H1V0.2H-4.6Z M-2.55,-0.75H-1.05V0.75H-2.55Z", "M-4.6,-0.2H1V0.2H-4.6Z M-1.8,-0.85L-0.95,0.6H-2.65Z"]}, "legend": {"title": null, "orient": "none", "legendX": 322.1, "legendY": 99.7, "rowPadding": 17.7, "labelOffset": 0.9}}}}
    ]
   }
  ],
  "spacing": 172,
  "bounds": "flush",
  "resolve": {"scale": {"color": "independent", "shape": "independent"}, "legend": {"color": "independent", "shape": "independent"}}
 }
]
}
